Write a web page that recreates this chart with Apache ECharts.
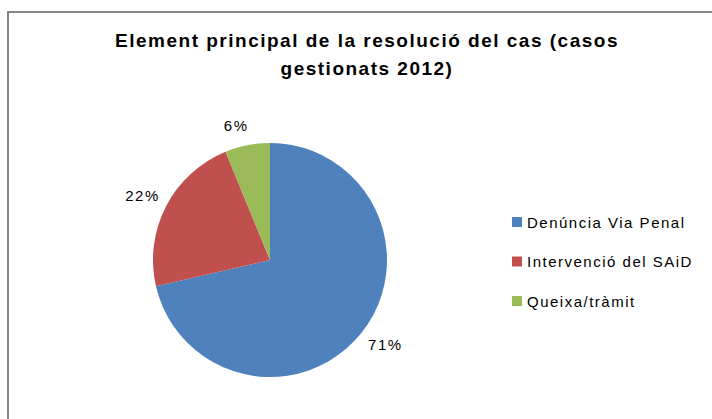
<!DOCTYPE html>
<html>
<head>
<meta charset="utf-8">
<script src="https://cdn.jsdelivr.net/npm/echarts@6/dist/echarts.min.js"></script>
<style>
  html, body { margin: 0; padding: 0; background: #fff; }
  #chart { width: 712px; height: 419px; }
  /* Excel-style spaced lettering */
  #chart text { letter-spacing: 1.5px; }
</style>
</head>
<body>
<div id="chart"></div>
<script>
const categories = ['Denúncia Via Penal', 'Intervenció del SAiD', 'Queixa/tràmit'];
const shares = [71.4, 22.4, 6.2];
const colors = ['#4F81BD', '#C0504D', '#9BBB59'];

// label placement per slice (Excel "best fit" look)
const labelLook = [
    { len: 18, dist: -7.5 },
    { len: 24, dist: -15 },
    { len: 20, dist: -5 }
];

const chart = echarts.init(document.getElementById('chart'), null, { renderer: 'svg' });

const option = {
    backgroundColor: '#fff',
    animation: false,
    title: {
        text: 'Element principal de la resolució del cas (casos\ngestionats 2012)',
        left: 367,
        top: 26,
        textAlign: 'center',
        padding: 0,
        textStyle: {
            fontFamily: 'Liberation Sans',
            fontWeight: 'bold',
            fontSize: 19,
            lineHeight: 28,
            color: '#000'
        }
    },
    legend: {
        orient: 'vertical',
        left: 507,
        top: 207,
        itemWidth: 10,
        itemHeight: 10,
        itemGap: 19.5,
        icon: 'rect',
        data: categories,
        textStyle: {
            fontFamily: 'Liberation Sans',
            fontSize: 15,
            lineHeight: 20,
            color: '#000'
        }
    },
    graphic: [{
        type: 'rect',
        shape: { x: 8, y: 12, width: 760, height: 460 },
        style: { fill: 'none', stroke: '#868686', lineWidth: 2 },
        silent: true
    }],
    series: [{
        type: 'pie',
        center: [270, 260],
        radius: 117,
        startAngle: 90,
        clockwise: true,
        avoidLabelOverlap: false,
        itemStyle: { borderWidth: 0 },
        label: {
            show: true,
            position: 'outside',
            fontFamily: 'Liberation Sans',
            fontSize: 15,
            color: '#000',
            formatter: p => Math.round(p.percent) + '%'
        },
        labelLine: { show: false, length2: 0 },
        data: categories.map((name, i) => ({
            name: name,
            value: shares[i],
            itemStyle: { color: colors[i] },
            label: { distanceToLabelLine: labelLook[i].dist },
            labelLine: { show: false, length: labelLook[i].len, length2: 0 }
        }))
    }]
};

chart.setOption(option);
</script>
</body>
</html>
